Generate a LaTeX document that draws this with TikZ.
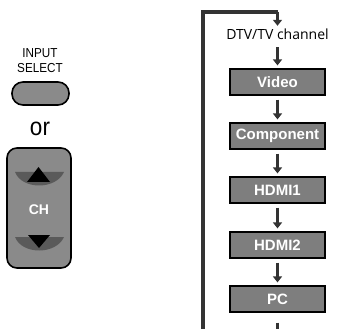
\documentclass[tikz,border=0pt]{standalone}
\usepackage{fontspec}
\setmainfont{Liberation Sans}
\newfontfamily\dtvfont{Open Sans}
\newfontfamily\narrowfont[FakeStretch=0.9]{Liberation Sans}
\usetikzlibrary{arrows.meta}
\definecolor{btngray}{HTML}{8A8A8A}
\definecolor{boxgray}{HTML}{7E7E7E}
\definecolor{linegray}{HTML}{333333}
\definecolor{bowlgray}{HTML}{5A5A5A}
\begin{document}
\begin{tikzpicture}[x=1pt,y=-1pt,
  srcbox/.style={draw=black,line width=1.2pt,fill=boxgray,minimum width=95pt,minimum height=26pt,inner sep=0pt,text=white,font=\fontsize{15}{15}\selectfont\bfseries},
  flow/.style={draw=linegray,line width=3pt,-{Triangle[width=9pt,length=6pt]},shorten <=4pt,shorten >=3pt},
  loopline/.style={draw=linegray,line width=4pt},
  button/.style={draw=black,line width=1.6pt,fill=btngray,inner sep=0pt},
  bowl/.style={fill=bowlgray},
  tri/.style={fill=black},
  sellabel/.style={inner sep=0pt,anchor=base,text height=9.5pt,text depth=0pt,font=\narrowfont\fontsize{13}{13}\selectfont}]
\useasboundingbox (0,0) rectangle (338,329);
% left side
\node[sellabel] (input) at (40,58) {INPUT};
\node[sellabel] (select) at (40,72.5) {SELECT};
\node[button,rounded corners=11pt,minimum width=57pt,minimum height=23pt] (sel) at (40.5,93.5) {};
\node[inner sep=0pt,font=\narrowfont\fontsize{25}{25}\selectfont] (or) at (40,129) {or};
\node[button,rounded corners=10pt,minimum width=64pt,minimum height=120pt] (ch) at (39,208) {};
\fill[bowl] (15,172) .. controls (22,190) and (56,190) .. (64,172) -- cycle;
\fill[tri] (38.5,167) -- (50,182) -- (27,182) -- cycle;
\fill[bowl] (15,237) .. controls (22,255) and (56,255) .. (64,237) -- cycle;
\fill[tri] (28,235) -- (50,235) -- (39,248) -- cycle;
\node[text=white,inner sep=0pt,font=\fontsize{14}{14}\selectfont\bfseries] (chlabel) at (39,210) {CH};
% right side
\node[inner sep=3pt,text height=10pt,text depth=0pt,font=\dtvfont\fontsize{14}{14}\selectfont] (dtv) at (277.5,35) {DTV/TV channel};
\node[srcbox] (video) at (277.5,82) {Video};
\node[srcbox] (comp) at (277.5,136) {Component};
\node[srcbox] (hdmi1) at (277.5,190) {HDMI1};
\node[srcbox] (hdmi2) at (277.5,245) {HDMI2};
\node[srcbox] (pc) at (277.5,299) {PC};
\coordinate (bl) at (203,329);
\coordinate (tl) at (203,12);
\coordinate (tr) at (277.5,12);
\coordinate (br) at (277.5,329);
\draw[loopline] (bl) -- (tl) -- (tr);
\draw[flow,shorten <=0pt,shorten >=1pt] (tr) -- (dtv.north);
\draw[flow] (dtv.south) -- (video.north);
\draw[flow] (video.south) -- (comp.north);
\draw[flow] (comp.south) -- (hdmi1.north);
\draw[flow] (hdmi1.south) -- (hdmi2.north);
\draw[flow] (hdmi2.south) -- (pc.north);
\draw[draw=linegray,line width=3pt,shorten <=10pt] (pc.south) -- (br);
\end{tikzpicture}
\end{document}
